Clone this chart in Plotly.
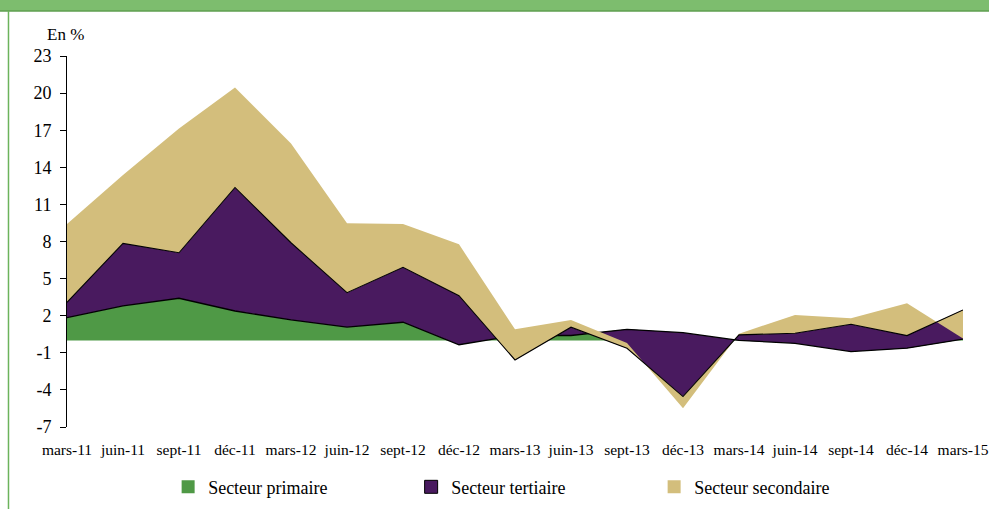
import plotly.graph_objects as go

categories = ["mars-11", "juin-11", "sept-11", "déc-11", "mars-12", "juin-12", "sept-12", "déc-12",
              "mars-13", "juin-13", "sept-13", "déc-13", "mars-14", "juin-14", "sept-14", "déc-14", "mars-15"]
primaire = [1.84, 2.79, 3.41, 2.38, 1.66, 1.07, 1.47, -0.35, 0.40, 0.40, 0.90, 0.63, 0.00, -0.23, -0.90, -0.63, 0.10]
tertiaire = [1.24, 5.06, 3.68, 9.99, 6.24, 2.79, 4.44, 3.97, -1.98, 0.67, -1.53, -5.17, 0.45, 0.81, 2.21, 1.02, 2.36]
secondaire = [6.33, 5.52, 10.05, 8.08, 8.03, 5.61, 3.50, 4.15, 2.48, 0.59, 0.43, -0.94, 0.10, 1.48, 0.48, 2.61, -2.31]
y_ticks = [-7, -4, -1, 2, 5, 8, 11, 14, 17, 20, 23]

GREEN = "#4f9946"
PURPLE = "#491a5f"
TAN = "#d3be7c"
FONT = "'Liberation Serif', 'Times New Roman', serif"

fig = go.Figure()
fig.add_trace(go.Scatter(x=categories, y=primaire, stackgroup="one", mode="lines",
                         line=dict(color="black", width=1.3), fillcolor=GREEN,
                         showlegend=False, hoverinfo="skip"))
fig.add_trace(go.Scatter(x=categories, y=tertiaire, stackgroup="one", mode="lines",
                         line=dict(color="black", width=1.1), fillcolor=PURPLE,
                         showlegend=False, hoverinfo="skip"))
fig.add_trace(go.Scatter(x=categories, y=secondaire, stackgroup="one", mode="lines",
                         line=dict(color=TAN, width=0), fillcolor=TAN,
                         showlegend=False, hoverinfo="skip"))

# legend entries
for name, col, lw in [("Secteur primaire", GREEN, 0), ("Secteur tertiaire", PURPLE, 1), ("Secteur secondaire", TAN, 0)]:
    fig.add_trace(go.Scatter(x=[None], y=[None], mode="markers", name=name,
                             marker=dict(symbol="square", size=13, color=col,
                                         line=dict(color="black", width=lw))))

fig.update_layout(
    width=989, height=509,
    margin=dict(l=67, r=26, t=56, b=82, autoexpand=False),
    paper_bgcolor="white", plot_bgcolor="white",
    font=dict(family=FONT, color="black"),
    xaxis=dict(type="category", range=[0, 16], showline=False, ticks="", showgrid=False,
               zeroline=False, tickfont=dict(size=15.5, family=FONT), ticklabelstandoff=11,
               automargin=False),
    xaxis2=dict(type="linear", overlaying="x", anchor="free", position=7/30, range=[0, 16],
                tick0=0, dtick=1, ticks="outside", ticklen=5, tickcolor="black",
                showline=True, linecolor="black", linewidth=1.3, showticklabels=False,
                showgrid=False, zeroline=False, automargin=False),
    yaxis=dict(range=[-7, 23], tickvals=y_ticks, ticktext=[str(v) for v in y_ticks],
               showline=True, linecolor="black", linewidth=1,
               ticks="outside", ticklen=6, tickcolor="black", showgrid=False, zeroline=False,
               tickfont=dict(size=18, family=FONT), ticklabelstandoff=5, automargin=False),
    legend=dict(orientation="h", xref="container", yref="container", x=0.170, xanchor="left",
                y=0.043, yanchor="middle", traceorder="normal",
                font=dict(size=18, family=FONT), itemwidth=30, entrywidth=198,
                entrywidthmode="pixels", bgcolor="rgba(0,0,0,0)"),
    annotations=[dict(text="En %", xref="paper", yref="paper", x=-0.0246, y=1.059,
                      xanchor="left", yanchor="middle", showarrow=False,
                      font=dict(size=17, family=FONT))],
    shapes=[
        dict(type="rect", xref="paper", yref="paper", x0=-0.08, x1=1.04, y0=1.1212, y1=1.16,
             fillcolor="#7dbd6e", line=dict(width=0), layer="below"),
        dict(type="line", xref="paper", yref="paper", x0=-0.08, x1=1.04, y0=1.1212, y1=1.1212,
             line=dict(color="#5f9f50", width=1.5)),
        dict(type="line", xref="paper", yref="paper", x0=-0.0653, x1=-0.0653, y0=-0.23, y1=1.1212,
             line=dict(color="#6cb35c", width=1.5)),
    ],
)

fig.write_html("out.html", config={"displayModeBar": False},
               post_script="document.body.style.margin='0';")
